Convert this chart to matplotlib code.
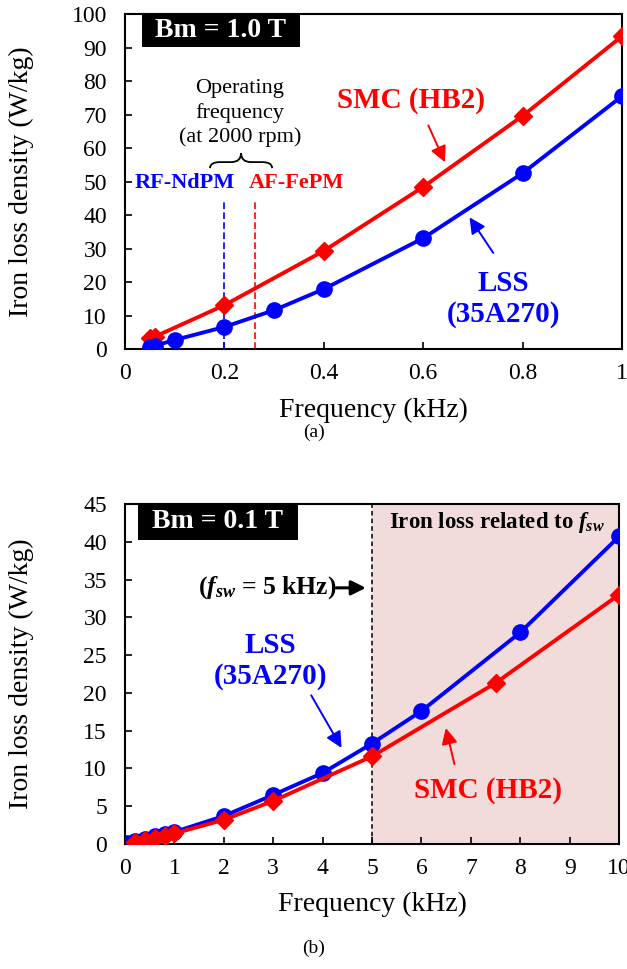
import matplotlib
matplotlib.use("Agg")
import matplotlib.pyplot as plt
from matplotlib.patches import Rectangle, PathPatch
from matplotlib.path import Path

plt.rcParams['font.family'] = ['Liberation Serif', 'DejaVu Serif']
plt.rcParams['mathtext.fontset'] = 'custom'
plt.rcParams['mathtext.rm'] = 'Liberation Serif:bold'
plt.rcParams['mathtext.it'] = 'Liberation Serif:italic:bold'
plt.rcParams['mathtext.bf'] = 'Liberation Serif:bold'

# (a) Bm = 1.0 T
freq_lss_a = [0.05, 0.06, 0.1, 0.2, 0.3, 0.4, 0.6, 0.8, 1.0]
loss_lss_a = [0.7, 1.0, 2.7, 6.6, 11.6, 17.9, 33.1, 52.5, 75.5]
freq_smc_a = [0.05, 0.06, 0.2, 0.4, 0.6, 0.8, 1.0]
loss_smc_a = [3.2, 3.7, 13.1, 29.3, 48.4, 69.6, 93.4]

# (b) Bm = 0.1 T
freq_lss_b = [0.05, 0.2, 0.4, 0.6, 0.8, 1, 2, 3, 4, 5, 6, 8, 10]
loss_lss_b = [0.1, 0.4, 0.7, 1.0, 1.3, 1.6, 3.7, 6.5, 9.4, 13.3, 17.6, 28.0, 40.7]
freq_smc_b = [0.2, 0.4, 0.6, 0.8, 1, 2, 3, 5, 7.5, 10]
loss_smc_b = [0.2, 0.5, 0.8, 1.1, 1.4, 3.2, 5.7, 11.6, 21.3, 33.0]

f_rf = 0.2     # RF-NdPM operating frequency
f_af = 0.262   # AF-FePM operating frequency
f_sw = 5       # switching frequency

xticks_a = [0, 0.2, 0.4, 0.6, 0.8, 1.0]
xticklabels_a = ["0", "0.2", "0.4", "0.6", "0.8", "1"]

BLUE = "#0000ff"
RED = "#ff0000"

fig = plt.figure(figsize=(6.27, 9.69), dpi=100)
ax1 = fig.add_axes([0.1994, 0.6398, 0.7927, 0.3457])
ax2 = fig.add_axes([0.1994, 0.129, 0.788, 0.3509])


def style_axes(ax):
    for s in ax.spines.values():
        s.set_linewidth(1.5)
        s.set_color("black")
    ax.tick_params(direction="in", length=5, width=1.2, labelsize=17)
    ax.tick_params(axis="x", pad=10)
    ax.tick_params(axis="y", pad=13)
    ax.set_ylabel("Iron loss density (W/kg)", fontsize=20)
    ax.set_xlabel("Frequency (kHz)", fontsize=20)


# ---- (a) ----
ax1.plot(freq_smc_a, loss_smc_a, color=RED, lw=2.8, marker="D", ms=9.5, zorder=3)
ax1.plot(freq_lss_a, loss_lss_a, color=BLUE, lw=2.8, marker="o", ms=11, zorder=4)
ax1.plot([f_rf, f_rf], [0, 44.5], color=BLUE, ls="--", lw=1.2, dashes=(4, 2), zorder=2)
ax1.plot([f_af, f_af], [0, 44.5], color=RED, ls="--", lw=1.2, dashes=(4, 2), zorder=2)
ax1.set_xlim(0, 1)
ax1.set_ylim(0, 100)
ax1.set_xticks(xticks_a)
ax1.set_xticklabels(xticklabels_a)
ax1.set_yticks(range(0, 101, 10))
style_axes(ax1)
ax1.yaxis.set_label_coords(-0.183, 0.5)
ax1.xaxis.set_label_coords(0.5, -0.146)

ax1.add_patch(Rectangle((0.034, 0.901), 0.318, 0.099, transform=ax1.transAxes,
                        facecolor="black", edgecolor="none", zorder=5))
ax1.text(0.193, 0.95, "Bm = 1.0 T", transform=ax1.transAxes, color="white",
         fontsize=20, fontweight="bold", ha="center", va="center", zorder=6)

ax1.text(0.231, 70.4, "Operating\nfrequency\n(at 2000 rpm)", fontsize=16,
         ha="center", va="center", linespacing=1.3)
# curly brace over the two operating points
bx0, bx1, bm = 0.171, 0.296, 0.2335
yb, ym, yt = 54.0, 55.8, 58.5
verts = [(bx0, yb), (bx0, ym), (bx0 + 0.02, ym), (bm - 0.02, ym), (bm, ym), (bm, yt),
         (bm, ym), (bm + 0.02, ym), (bx1 - 0.02, ym), (bx1, ym), (bx1, yb)]
codes = [Path.MOVETO, Path.CURVE3, Path.CURVE3, Path.LINETO, Path.CURVE3, Path.CURVE3,
         Path.CURVE3, Path.CURVE3, Path.LINETO, Path.CURVE3, Path.CURVE3]
ax1.add_patch(PathPatch(Path(verts, codes), facecolor="none", edgecolor="black", lw=1.3))
ax1.text(0.121, 49.5, "RF-NdPM", color=BLUE, fontsize=16, fontweight="bold",
         ha="center", va="center")
ax1.text(0.345, 49.5, "AF-FePM", color=RED, fontsize=16, fontweight="bold",
         ha="center", va="center")

ax1.text(0.575, 74.3, "SMC (HB2)", color=RED, fontsize=21, fontweight="bold",
         ha="center", va="center")
ax1.annotate("", xy=(0.646, 55), xytext=(0.608, 67.5),
             arrowprops=dict(arrowstyle="-|>", color=RED, lw=1.4, mutation_scale=24))
ax1.text(0.761, 14.9, "LSS\n(35A270)", color=BLUE, fontsize=21, fontweight="bold",
         ha="center", va="center", linespacing=1.15)
ax1.annotate("", xy=(0.69, 40), xytext=(0.744, 28),
             arrowprops=dict(arrowstyle="-|>", color=BLUE, lw=1.4, mutation_scale=24))

# ---- (b) ----
ax2.axvspan(f_sw, 10, color="#f2dcdb", zorder=0)
ax2.axvline(f_sw, color="black", ls="--", lw=1.1, dashes=(3, 2), zorder=1)
ax2.plot(freq_lss_b, loss_lss_b, color=BLUE, lw=2.8, marker="o", ms=11, zorder=3)
ax2.plot(freq_smc_b, loss_smc_b, color=RED, lw=2.8, marker="D", ms=9.5, zorder=4)
ax2.set_xlim(0, 10)
ax2.set_ylim(0, 45)
ax2.set_xticks(range(0, 11))
ax2.set_yticks(range(0, 46, 5))
style_axes(ax2)
ax2.yaxis.set_label_coords(-0.184, 0.5)
ax2.xaxis.set_label_coords(0.5, -0.141)

ax2.add_patch(Rectangle((0.026, 0.894), 0.324, 0.106, transform=ax2.transAxes,
                        facecolor="black", edgecolor="none", zorder=5))
ax2.text(0.188, 0.947, "Bm = 0.1 T", transform=ax2.transAxes, color="white",
         fontsize=20, fontweight="bold", ha="center", va="center", zorder=6)

ax2.text(7.53, 42.6, r"Iron loss related to $f_{sw}$", fontsize=16.5, fontweight="bold",
         ha="center", va="center")
ax2.text(4.28, 33.9, r"($f_{sw}$ = 5 kHz)", fontsize=18.5, fontweight="bold",
         ha="right", va="center")
ax2.annotate("", xy=(4.93, 33.9), xytext=(4.22, 33.9),
             arrowprops=dict(arrowstyle="-|>", color="black", lw=2.2, mutation_scale=22))

ax2.text(2.94, 24.2, "LSS\n(35A270)", color=BLUE, fontsize=21, fontweight="bold",
         ha="center", va="center", linespacing=1.15)
ax2.annotate("", xy=(4.41, 12.4), xytext=(3.74, 20),
             arrowprops=dict(arrowstyle="-|>", color=BLUE, lw=1.4, mutation_scale=24))
ax2.text(7.35, 7.1, "SMC (HB2)", color=RED, fontsize=21, fontweight="bold",
         ha="center", va="center")
ax2.annotate("", xy=(6.48, 15.7), xytext=(6.68, 10.2),
             arrowprops=dict(arrowstyle="-|>", color=RED, lw=1.4, mutation_scale=24))

fig.text(0.5, 1 - 432 / 969, "(a)", fontsize=14, ha="center", va="center")
fig.text(0.5, 1 - 948 / 969, "(b)", fontsize=14, ha="center", va="center")

fig.savefig("out.png", dpi=100)
